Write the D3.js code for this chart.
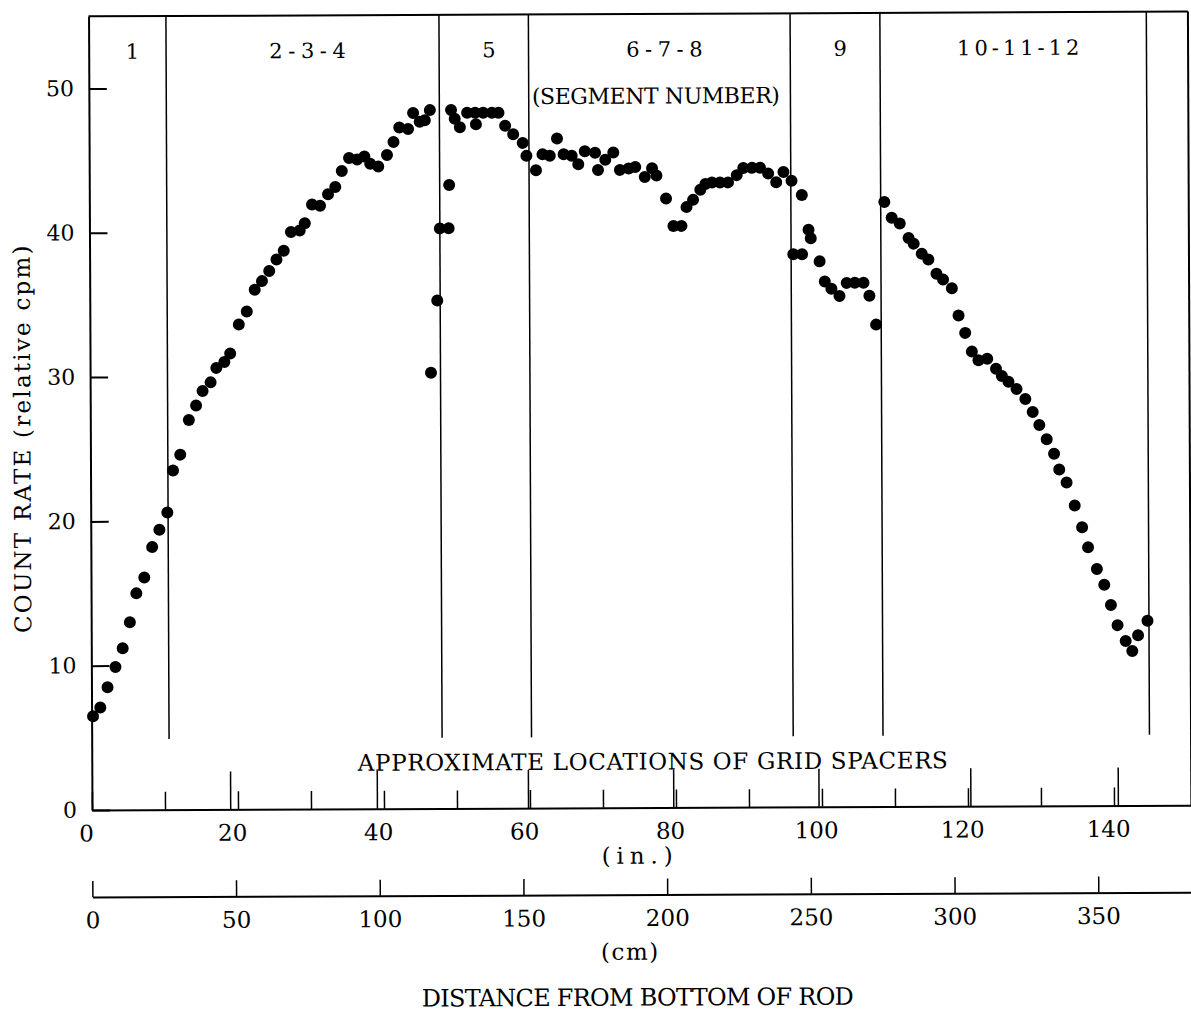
<!DOCTYPE html>
<html>
<head>
<meta charset="utf-8">
<script src="https://cdn.jsdelivr.net/npm/d3@7"></script>
<style>
  body { margin: 0; background: #fff; }
  text { font-family: "DejaVu Serif", serif; fill: #000; }
</style>
</head>
<body>
<script>
// Count rate along the rod, one reading per position (inches from the bottom).
const positionIn = [
  0.2, 1.2, 2.2, 3.3, 4.3, 5.3, 6.2, 7.3, 8.4, 9.4,
  10.5, 11.3, 12.3, 13.5, 14.5, 15.4, 16.5, 17.3, 18.4, 19.2,
  20.4, 21.5, 22.6, 23.6, 24.6, 25.6, 26.6, 27.6, 28.8, 29.5,
  30.5, 31.6, 32.7, 33.7, 34.6, 35.6, 36.7, 37.7, 38.5, 39.6,
  40.8, 41.7, 42.5, 43.7, 44.4, 45.3, 46.0, 46.7, 46.7, 47.6,
  48.0, 49.2, 49.3, 49.6, 50.1, 50.8, 51.8, 52.9, 53.0, 54.0,
  55.2, 56.1, 57.0, 58.1, 59.4, 59.9, 61.2, 62.1, 63.1, 64.1,
  65.0, 66.1, 67.0, 67.9, 69.3, 69.7, 70.7, 71.8, 72.7, 73.9,
  74.8, 76.1, 77.1, 77.7, 79.0, 80.0, 81.1, 81.8, 82.7, 83.7,
  84.4, 85.3, 86.4, 87.5, 88.7, 89.6, 90.8, 91.9, 93.0, 94.1,
  95.1, 96.2, 96.4, 97.6, 97.6, 98.5, 98.8, 100.0, 100.7, 101.6,
  102.7, 103.7, 104.8, 106.0, 106.8, 107.7, 108.9, 109.9, 111.0, 112.2,
  112.9, 114.0, 114.9, 116.0, 116.9, 118.1, 119.0, 119.9, 120.8, 121.7,
  122.9, 124.1, 124.9, 125.8, 126.9, 128.1, 129.1, 130.0, 131.0, 132.0,
  132.7, 133.7, 134.8, 135.8, 136.6, 137.8, 138.8, 139.7, 140.6, 141.7,
  142.6, 143.4, 144.7
];
const countRate = [
  6.5, 7.1, 8.5, 9.9, 11.2, 13.0, 15.0, 16.1, 18.2, 19.4,
  20.6, 23.5, 24.6, 27.0, 28.0, 29.0, 29.6, 30.6, 31.0, 31.6,
  33.6, 34.5, 36.0, 36.6, 37.3, 38.1, 38.7, 40.0, 40.1, 40.6,
  41.9, 41.8, 42.6, 43.1, 44.2, 45.1, 45.0, 45.2, 44.7, 44.5,
  45.3, 46.2, 47.2, 47.1, 48.2, 47.6, 47.7, 48.4, 30.2, 35.2,
  40.2, 40.2, 43.2, 48.4, 47.8, 47.2, 48.2, 48.2, 47.4, 48.2,
  48.2, 48.2, 47.3, 46.7, 46.1, 45.2, 44.2, 45.3, 45.2, 46.4,
  45.3, 45.2, 44.6, 45.5, 45.4, 44.2, 44.9, 45.4, 44.2, 44.3,
  44.4, 43.7, 44.3, 43.8, 42.2, 40.3, 40.3, 41.6, 42.1, 42.8,
  43.2, 43.3, 43.3, 43.3, 43.8, 44.3, 44.3, 44.3, 43.9, 43.3,
  44.0, 43.4, 38.3, 38.3, 42.4, 40.0, 39.4, 37.8, 36.4, 35.9,
  35.4, 36.3, 36.3, 36.3, 35.4, 33.4, 41.9, 40.8, 40.4, 39.4,
  39.0, 38.3, 37.9, 36.9, 36.5, 35.9, 34.0, 32.8, 31.5, 30.9,
  31.0, 30.3, 29.8, 29.4, 28.9, 28.2, 27.3, 26.4, 25.4, 24.4,
  23.3, 22.4, 20.8, 19.3, 17.9, 16.4, 15.3, 13.9, 12.5, 11.4,
  10.7, 11.8, 12.8
];

// Segment boundaries (in.) and the segment numbers between them.
const segmentBounds = [10.6, 48.0, 60.25, 96.1, 108.4, 144.9];
const segmentNames = ["1", "2-3-4", "5", "6-7-8", "9", "10-11-12"];

// Approximate grid spacer locations (in.).
const spacerIn = [19.0, 39.1, 59.8, 79.7, 99.6, 120.4, 140.6];

// Tick values.
const rateTicks = [0, 10, 20, 30, 40, 50];
const inchTicks = [0, 10, 20, 30, 40, 50, 60, 70, 80, 90, 100, 110, 120, 130, 140];
const cmTicks = [0, 50, 100, 150, 200, 250, 300, 350];

const width = 1191;
const height = 1013;
const pitch = 15.6; // typewriter character pitch

const svg = d3.select("body").append("svg")
  .attr("width", width)
  .attr("height", height);

const x = d3.scaleLinear().domain([0, 150.6]).range([92, 92 + 150.6 * 7.3]);
const xCm = d3.scaleLinear().domain(x.domain().map(d => d * 2.54)).range(x.range());
const y = d3.scaleLinear().domain([0, 55]).range([810, 810 - 55 * 14.43]);

// The whole plate sits a touch off square, like the printed page.
const g = svg.append("g")
  .attr("transform", `rotate(-0.25, ${x(0)}, ${y(0)})`);

// Set a typewritten string to a fixed pitch.
function typed(sel, p = pitch) {
  sel.each(function () {
    const t = d3.select(this);
    const n = t.text().length;
    if (n > 1) t.attr("textLength", n * p).attr("lengthAdjust", "spacing");
  });
  return sel;
}

// Top and right edges of the frame.
g.append("line")
  .attr("x1", x(0)).attr("x2", x(150.6))
  .attr("y1", y(55)).attr("y2", y(55))
  .attr("stroke", "#000").attr("stroke-width", 2);
g.append("line")
  .attr("x1", x(150.6)).attr("x2", x(150.6))
  .attr("y1", y(55)).attr("y2", y(0))
  .attr("stroke", "#000").attr("stroke-width", 2);

// Segment boundaries.
g.selectAll(".seg-line")
  .data(segmentBounds)
  .enter()
  .append("line")
  .attr("class", "seg-line")
  .attr("x1", d => x(d)).attr("x2", d => x(d))
  .attr("y1", y(55)).attr("y2", y(4.9))
  .attr("stroke", "#000")
  .attr("stroke-width", 1.5);

// Segment numbers, centred in each segment.
g.selectAll(".seg-label")
  .data(segmentNames)
  .enter()
  .append("text")
  .attr("class", "seg-label")
  .attr("x", (d, i) => x(((i === 0 ? 0 : segmentBounds[i - 1]) + segmentBounds[i]) / 2) + 5)
  .attr("y", 59)
  .attr("text-anchor", "middle")
  .style("font-size", "21px")
  .text(d => d)
  .call(typed, 15.3);

g.append("text")
  .attr("x", 659).attr("y", 106)
  .attr("text-anchor", "middle")
  .style("font-size", "22px")
  .text("(SEGMENT NUMBER)")
  .call(typed, 15.5);

// Y axis, ticks pointing into the plot.
g.append("g")
  .attr("transform", `translate(${x(0)},0)`)
  .call(d3.axisLeft(y).tickValues(rateTicks).tickSizeInner(-18).tickSizeOuter(0).tickPadding(15))
  .attr("font-size", 22)
  .call(a => a.select(".domain").attr("stroke-width", 2))
  .call(a => a.selectAll(".tick line").attr("stroke-width", 2));

g.append("text")
  .attr("transform", "translate(32,439) rotate(-90)")
  .attr("text-anchor", "middle")
  .style("font-size", "23px")
  .text("COUNT RATE (relative cpm)")
  .call(typed, 15.5);

// Inch scale along the bottom of the plot.
g.append("g")
  .attr("transform", `translate(0,${y(0)})`)
  .call(d3.axisBottom(x).tickValues(inchTicks)
    .tickFormat(d => d % 20 === 0 ? d : "")
    .tickSizeInner(-18).tickSizeOuter(0).tickPadding(15))
  .attr("font-size", 23)
  .call(a => a.select(".domain").attr("stroke-width", 2))
  .call(a => a.selectAll(".tick line").attr("stroke-width", 1.5))
  .call(a => a.selectAll(".tick text").attr("dx", -6));

// Grid spacer marks.
g.selectAll(".spacer")
  .data(spacerIn)
  .enter()
  .append("line")
  .attr("class", "spacer")
  .attr("x1", d => x(d)).attr("x2", d => x(d))
  .attr("y1", y(0)).attr("y2", y(0) - 38)
  .attr("stroke", "#000")
  .attr("stroke-width", 1.5);

g.append("text")
  .attr("x", 653).attr("y", 772)
  .attr("text-anchor", "middle")
  .style("font-size", "23px")
  .text("APPROXIMATE LOCATIONS OF GRID SPACERS")
  .call(typed, 15.95);

g.append("text")
  .attr("x", 637).attr("y", 866)
  .attr("text-anchor", "middle")
  .style("font-size", "23px")
  .text("(in.)")
  .call(typed, 14.2);

// Centimetre scale.
g.append("g")
  .attr("transform", "translate(0,897)")
  .call(d3.axisBottom(xCm).tickValues(cmTicks)
    .tickSizeInner(-16).tickSizeOuter(0).tickPadding(15))
  .attr("font-size", 23)
  .call(a => a.select(".domain").attr("stroke-width", 2))
  .call(a => a.selectAll(".tick line").attr("stroke-width", 1.5));

g.append("text")
  .attr("x", 629).attr("y", 962)
  .attr("text-anchor", "middle")
  .style("font-size", "23px")
  .text("(cm)")
  .call(typed, 14.3);

g.append("text")
  .attr("x", 637).attr("y", 1008)
  .attr("text-anchor", "middle")
  .style("font-size", "24px")
  .text("DISTANCE FROM BOTTOM OF ROD")
  .call(typed, 16);

// Measured points.
g.selectAll(".pt")
  .data(d3.zip(positionIn, countRate))
  .enter()
  .append("circle")
  .attr("class", "pt")
  .attr("cx", d => x(d[0]))
  .attr("cy", d => y(d[1]))
  .attr("r", 6)
  .attr("fill", "#000");
</script>
</body>
</html>
